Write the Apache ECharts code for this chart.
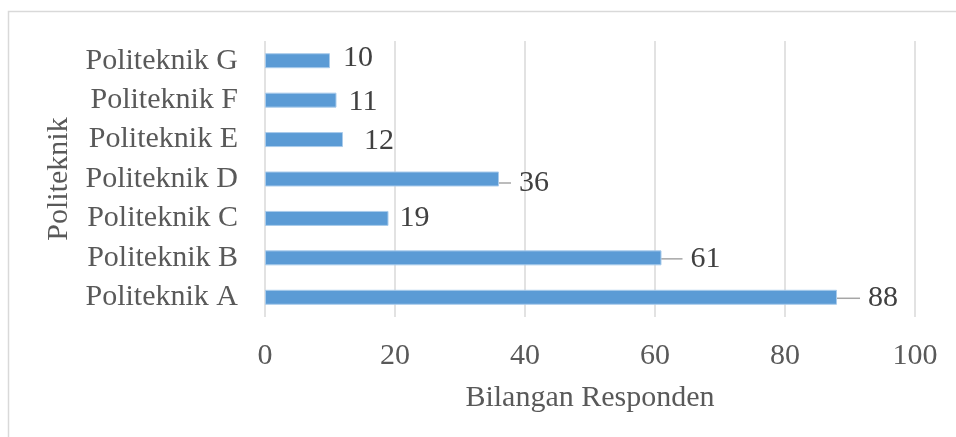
<!DOCTYPE html>
<html>
<head>
<meta charset="utf-8">
<script src="https://cdn.jsdelivr.net/npm/echarts@6/dist/echarts.min.js"></script>
<style>
html,body{margin:0;padding:0;background:#fff;}
#chart{width:956px;height:437px;}
</style>
</head>
<body>
<div id="chart"></div>
<script>
// Data (bottom to top)
const categories = ['Politeknik A', 'Politeknik B', 'Politeknik C', 'Politeknik D', 'Politeknik E', 'Politeknik F', 'Politeknik G'];
const values = [88, 61, 19, 36, 12, 11, 10];
const xTicks = [0, 20, 40, 60, 80, 100];
const xTitle = 'Bilangan Responden';
const yTitle = 'Politeknik';

// Label placement styling (leader line shown for some labels)
const hasLeader = [true, true, false, true, false, false, false];
const leaderLen = [23, 21, 0, 12, 0, 0, 0];
const labelDist = [8, 8, 11, 8, 21, 12, 13];
const labelDy = [1, 1, 0, 4, 2, 2, -3];

const FONT = "'Liberation Serif', 'Times New Roman', serif";
const FS = 30;

const chart = echarts.init(document.getElementById('chart'));

const seriesData = values.map((v, i) => ({
  value: v,
  label: hasLeader[i]
    ? { distance: 0, formatter: '{g|}{v|{c}}' }
    : { distance: labelDist[i], formatter: '{v|{c}}' },
  labelLine: { show: hasLeader[i] }
}));

chart.setOption({
  animation: false,
  backgroundColor: '#ffffff',
  graphic: [{
    type: 'rect',
    shape: { x: 8.5, y: 11.5, width: 1000, height: 500 },
    style: { fill: 'none', stroke: '#d9d9d9', lineWidth: 1.5 },
    silent: true,
    z: -10
  }],
  grid: { left: 265, right: 41, top: 41, bottom: 120, containLabel: false },
  xAxis: {
    type: 'value',
    min: 0, max: 100, interval: 20,
    axisLine: { show: false },
    axisTick: { show: false },
    splitLine: { show: true, lineStyle: { color: '#d9d9d9', width: 1.5 } },
    axisLabel: {
      fontFamily: FONT, fontSize: FS, color: '#595959', margin: 24,
      formatter: v => (xTicks.indexOf(v) >= 0 ? String(v) : '')
    },
    name: xTitle,
    nameLocation: 'middle',
    nameGap: 66,
    nameTextStyle: { fontFamily: FONT, fontSize: FS, color: '#595959' }
  },
  yAxis: {
    type: 'category',
    data: categories,
    axisLine: { show: false },
    axisTick: { show: false },
    splitLine: { show: false },
    axisLabel: { fontFamily: FONT, fontSize: FS, color: '#595959', margin: 27 },
    name: yTitle,
    nameLocation: 'middle',
    nameGap: 186,
    nameRotate: 90,
    nameTextStyle: { fontFamily: FONT, fontSize: FS, color: '#595959' }
  },
  series: [{
    type: 'bar',
    data: seriesData,
    barWidth: '38%',
    itemStyle: { color: '#5b9bd5', borderColor: '#a9cbeb', borderWidth: 1 },
    label: {
      show: true,
      position: 'right',
      fontFamily: FONT,
      fontSize: FS,
      color: '#404040',
      rich: {
        g: { width: 8, fontSize: FS, fontFamily: FONT },
        v: { fontSize: FS, fontFamily: FONT, color: '#404040' }
      }
    },
    labelLine: {
      show: false,
      lineStyle: { color: '#a6a6a6', width: 1.5 }
    },
    labelLayout: function (p) {
      const i = p.dataIndex;
      if (hasLeader[i]) {
        return { dx: leaderLen[i], dy: labelDy[i] };
      }
      return { dy: labelDy[i] };
    }
  }]
});
</script>
</body>
</html>
